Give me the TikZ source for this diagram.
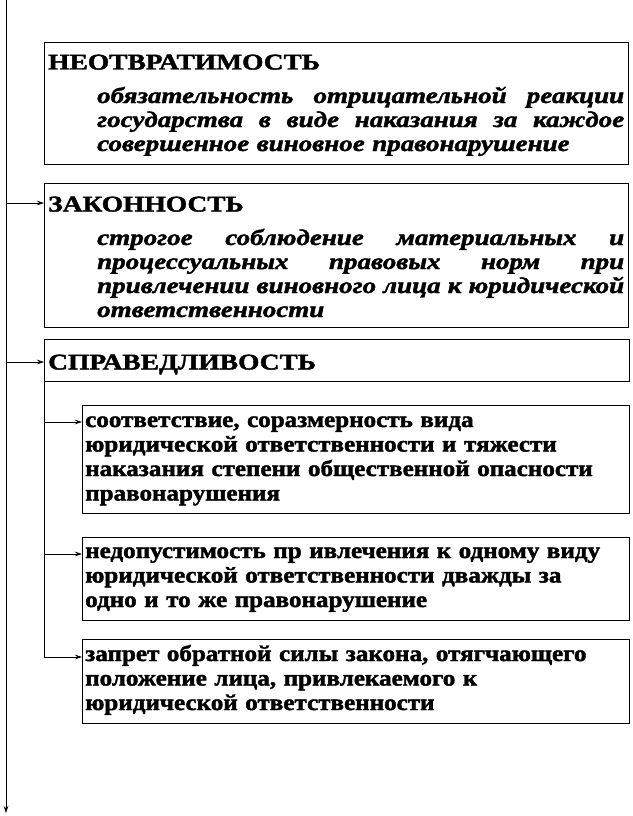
\documentclass[tikz,border=0pt]{standalone}
\usepackage{fontspec}
\setmainfont{Liberation Serif}[FakeStretch=1.115, FakeBold=1.8]
\newfontfamily\headfont{Liberation Serif}[FakeStretch=1.22, FakeBold=1.8]
\newfontfamily\bodyfont{Liberation Serif}[FakeStretch=1.2, FakeBold=1.8]
\usetikzlibrary{shapes, arrows.meta}
\tikzstyle{block} = [draw, rectangle, anchor=north west, inner sep=0pt, line width=0.6pt]
\tikzstyle{head} = [anchor=base west, inner sep=0pt, font=\headfont\fontsize{22.5}{24.5}\selectfont\bfseries]
\tikzstyle{body} = [anchor=base west, inner sep=0pt, text width=527pt, align=left, font=\bodyfont\fontsize{22.5}{24}\selectfont\bfseries\itshape]
\tikzstyle{item} = [anchor=base west, inner sep=0pt, text width=540pt, align=left, font=\fontsize{22.5}{24.5}\selectfont\bfseries]
\tikzstyle{link} = [line width=0.6pt, -{Stealth[length=7pt, width=4.5pt]}]
\newcommand{\spreadline}[1]{{\spaceskip=0pt\relax\xspaceskip=0pt\relax\makebox[527pt][s]{#1}}}

\begin{document}
\begin{tikzpicture}[x=1pt, y=-1pt]
  \useasboundingbox (0, 0) rectangle (632, 816);

  % principle boxes
  \node[block, minimum width=584, minimum height=122] at (44, 42) (neotvr) {};
  \node[block, minimum width=584, minimum height=144] at (44, 183) (zakon) {};
  \node[block, minimum width=585, minimum height=42] at (44, 339) (sprav) {};
  \node[block, minimum width=547, minimum height=108] at (82, 405) (sorazm) {};
  \node[block, minimum width=547, minimum height=83] at (82, 537) (dvazhdy) {};
  \node[block, minimum width=547, minimum height=84] at (82, 639) (zapret) {};

  \node[head] at (48, 69.5) (neotvr title) {НЕОТВРАТИМОСТЬ};
  \node[body] at (97, 103) (neotvr text) {\noindent
    \spreadline{обязательность отрицательной реакции}\\
    \spreadline{государства в виде наказания за каждое}\\
    совершенное виновное правонарушение};

  \node[head] at (48, 211.5) (zakon title) {ЗАКОННОСТЬ};
  \node[body] at (97, 245) (zakon text) {\noindent
    \spreadline{строгое соблюдение материальных и}\\
    \spreadline{процессуальных правовых норм при}\\
    \spreadline{привлечении виновного лица к юридической}\\
    ответственности};

  \node[head] at (48, 369.5) (sprav title) {СПРАВЕДЛИВОСТЬ};

  \node[item] at (85, 427) (sorazm text) {соответствие, соразмерность вида\\
    юридической ответственности и тяжести\\
    наказания степени общественной опасности\\
    правонарушения};
  \node[item] at (85, 558) (dvazhdy text) {недопустимость пр ивлечения к одному виду\\
    юридической ответственности дважды за\\
    одно и то же правонарушение};
  \node[item] at (85, 661) (zapret text) {запрет обратной силы закона, отягчающего\\
    положение лица, привлекаемого к\\
    юридической ответственности};

  % main line
  \coordinate (top) at (6, 0);
  \coordinate (bottom) at (6, 813);
  \coordinate (p2) at (6, 203);
  \coordinate (p3) at (6, 362);
  \draw[link] (top) -- (bottom);
  \draw[link] (p2) -- (p2 -| zakon.west);
  \draw[link] (p3) -- (p3 -| sprav.west);

  % inner line
  \coordinate (q1) at (44, 422);
  \coordinate (q2) at (44, 554);
  \coordinate (q3) at (44, 657);
  \draw[link] (sprav.south west) -- (q3) -- (q3 -| zapret.west);
  \draw[link] (q1) -- (q1 -| sorazm.west);
  \draw[link] (q2) -- (q2 -| dvazhdy.west);

\end{tikzpicture}
\end{document}
